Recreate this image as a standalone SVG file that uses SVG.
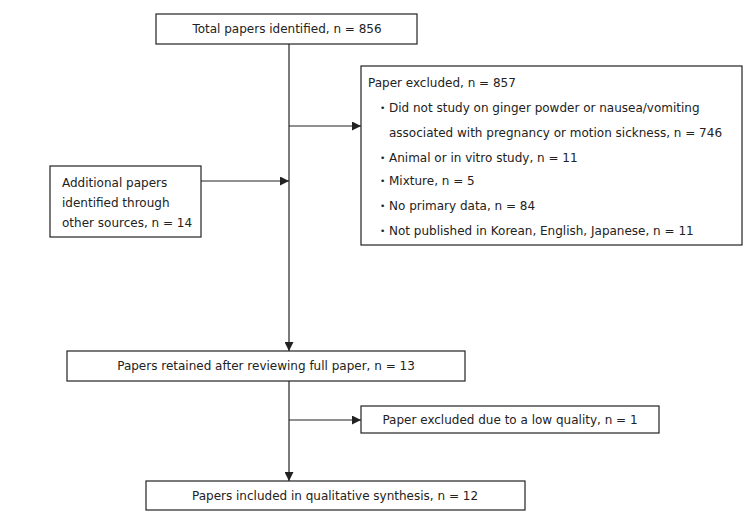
<svg xmlns="http://www.w3.org/2000/svg" width="751" height="515" viewBox="0 0 751 515">
<style>
.box{fill:#fff;stroke:#222;stroke-width:1.2}
text{font-family:"DejaVu Sans","Liberation Sans",sans-serif;font-size:12px;fill:#222}
.c{text-anchor:middle}
.b{font-size:9px}
.ln{stroke:#222;stroke-width:1.2;fill:none}
</style>
<defs>
<marker id="ah" viewBox="0 0 10 10" refX="10" refY="5" markerWidth="12" markerHeight="9" markerUnits="userSpaceOnUse" orient="auto">
<path d="M0,0 L10,5 L0,10 z" fill="#222"/>
</marker>
</defs>
<rect width="751" height="515" fill="#fff"/>
<g id="connectors">
<line class="ln" x1="289" y1="44" x2="289" y2="351" marker-end="url(#ah)"/>
<line class="ln" x1="289" y1="126" x2="361" y2="126" marker-end="url(#ah)"/>
<line class="ln" x1="201" y1="181" x2="289" y2="181" marker-end="url(#ah)"/>
<line class="ln" x1="289" y1="381" x2="289" y2="481" marker-end="url(#ah)"/>
<line class="ln" x1="289" y1="420" x2="361" y2="420" marker-end="url(#ah)"/>
</g>
<g id="total">
<rect class="box" x="156" y="14" width="261" height="30"/>
<text class="c" x="287" y="33">Total papers identified, n = 856</text>
</g>
<g id="excluded">
<rect class="box" x="361" y="66" width="381" height="179"/>
<text x="368" y="87">Paper excluded, n = 857</text>
<text class="b" x="380" y="111">•</text><text x="389" y="112">Did not study on ginger powder or nausea/vomiting</text>
<text x="389" y="137">associated with pregnancy or motion sickness, n = 746</text>
<text class="b" x="380" y="161">•</text><text x="389" y="162">Animal or in vitro study, n = 11</text>
<text class="b" x="380" y="184">•</text><text x="389" y="185">Mixture, n = 5</text>
<text class="b" x="380" y="209">•</text><text x="389" y="210">No primary data, n = 84</text>
<text class="b" x="380" y="234">•</text><text x="389" y="235">Not published in Korean, English, Japanese, n = 11</text>
</g>
<g id="additional">
<rect class="box" x="50" y="166" width="151" height="71"/>
<text x="62" y="187">Additional papers</text>
<text x="62" y="207">identified through</text>
<text x="62" y="227">other sources, n = 14</text>
</g>
<g id="retained">
<rect class="box" x="67" y="351" width="398" height="30"/>
<text class="c" x="266" y="370">Papers retained after reviewing full paper, n = 13</text>
</g>
<g id="lowquality">
<rect class="box" x="361" y="406" width="298" height="27"/>
<text class="c" x="510" y="424">Paper excluded due to a low quality, n = 1</text>
</g>
<g id="included">
<rect class="box" x="146" y="481" width="379" height="29"/>
<text class="c" x="335" y="500">Papers included in qualitative synthesis, n = 12</text>
</g>
</svg>
